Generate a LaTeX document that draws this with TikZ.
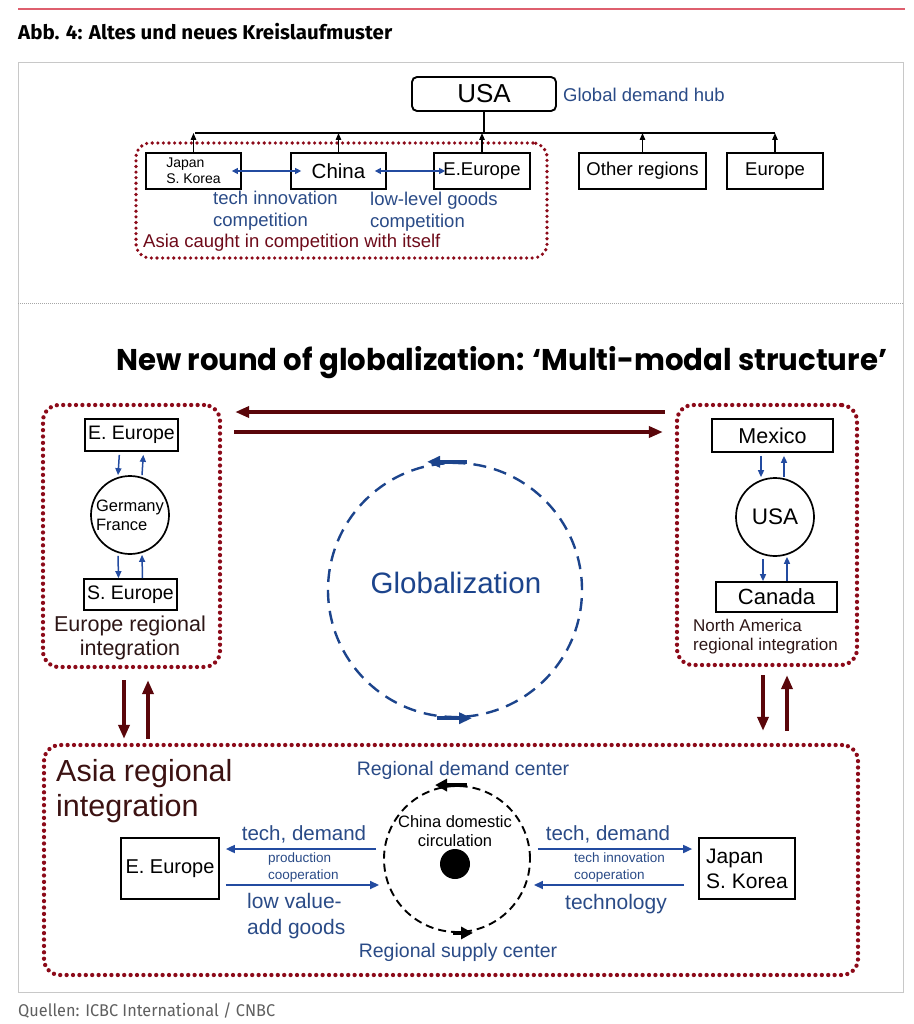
\documentclass[tikz,border=0pt]{standalone}
\usepackage{fontspec}
\usepackage{graphicx}
\setmainfont{Liberation Sans}
\newfontfamily\firaf{Fira Sans}
\newfontfamily\popf{Poppins}
\usetikzlibrary{arrows.meta}
\definecolor{blueT}{RGB}{42,75,135}
\definecolor{arrB}{RGB}{35,75,160}
\definecolor{globB}{RGB}{28,68,140}
\definecolor{regred}{RGB}{140,10,25}
\definecolor{maroonA}{RGB}{90,6,10}
\definecolor{darkT}{RGB}{45,22,22}
\definecolor{asiaT}{RGB}{60,18,18}
\definecolor{capT}{RGB}{110,10,25}
\definecolor{redline}{RGB}{222,95,110}
\definecolor{frameG}{RGB}{200,200,200}
\definecolor{srcG}{RGB}{95,95,95}
\newcommand\fsz[2]{\fontsize{#1}{#2}\selectfont}
\begin{document}
\begin{tikzpicture}[x=1pt,y=-1pt,
  box/.style={draw, line width=1.7pt, inner sep=0pt},
  region/.style={draw=regred, line width=4.3pt, dash pattern=on 0pt off 6.4pt, line cap=round, rounded corners=16pt, inner sep=0pt},
  upar/.style={draw, line width=1.3pt, -{Triangle[length=7pt,width=5.5pt]}},
  dbl/.style={draw=arrB, line width=1.2pt, {Triangle[length=6pt,width=6pt]}-{Triangle[length=6pt,width=6pt]}},
  blu/.style={draw=arrB, line width=1.5pt, -{Triangle[length=7pt,width=6pt]}},
  blu2/.style={draw=arrB, line width=1.7pt, -{Triangle[length=9pt,width=8pt]}},
  big/.style={draw=maroonA, line width=3.8pt, -{Triangle[length=14pt,width=11pt]}},
  gar/.style={draw=globB, line width=3.6pt, -{Triangle[length=13pt,width=11pt]}},
  kar/.style={draw=black, line width=4pt, -{Triangle[length=12pt,width=12pt]}},
  txt/.style={inner sep=0pt},
]
\useasboundingbox (0,0) rectangle (913,1024);
\fill[white] (0,0) rectangle (913,1024);

% header
\draw[redline, line width=1.2pt] (18,9) -- (905,9);
\node[txt, anchor=base west] (head) at (18,39.5) {\resizebox{374pt}{\height}{\firaf\bfseries\fsz{20}{20}Abb. 4: Altes und neues Kreislaufmuster}};
\draw[frameG, line width=1pt] (18,63) rectangle (903,992);
\draw[gray!70, line width=0.8pt, dash pattern=on 1pt off 1pt] (18,303) -- (903,303);
\node[txt, anchor=base west, text=srcG] (src) at (18,1016) {\resizebox{257pt}{\height}{\firaf\fsz{17}{17}Quellen: ICBC International / CNBC}};

% ===== old pattern =====
\node[region, line width=3.6pt, dash pattern=on 0pt off 5.6pt, rounded corners=14pt, minimum width=411pt, minimum height=115pt] (asia1) at (341.5,200.5) {};
\node[box, rounded corners=5pt, line width=1.9pt, minimum width=144pt, minimum height=34pt, font=\fsz{26}{26}] (usa) at (484,94) {USA};
\node[txt, anchor=west, text=blueT, font=\fsz{18.5}{20}] (hub) at (563,95) {Global demand hub};
\coordinate (barL) at (195,133);
\coordinate (barR) at (775,133);
\draw[line width=2pt] (barL) -- (barR);
\draw[line width=2pt] (usa.south) -- (usa.south |- barL);
\node[box, minimum width=95pt, minimum height=36pt, align=left, font=\fsz{14}{16}] (jk) at (193.5,171) {Japan\\S. Korea};
\node[box, minimum width=95pt, minimum height=36pt, font=\fsz{20.5}{20}] (cn) at (338.5,171) {China};
\node[box, minimum width=96pt, minimum height=36pt, font=\fsz{18.5}{18}] (ee) at (482,171) {E.Europe};
\node[box, minimum width=127pt, minimum height=36pt, font=\fsz{18.5}{18}] (oth) at (642.5,171) {Other regions};
\node[box, minimum width=96pt, minimum height=36pt, font=\fsz{18.5}{18}] (eur) at (775,171) {Europe};
\foreach \b in {jk,cn,ee,oth,eur} \draw[upar] (\b.north) -- (\b.north |- barL);
\draw[dbl, shorten <=-10pt, shorten >=-11pt] (jk.east) -- (cn.west);
\draw[dbl, shorten <=-12pt, shorten >=-12pt] (cn.east) -- (ee.west);
\node[txt, anchor=west, align=left, text=blueT, font=\fsz{18.5}{22}] (tic) at (213,211) {tech innovation\\competition};
\node[txt, anchor=west, align=left, text=blueT, font=\fsz{18.5}{22}] (llg) at (370,212) {low-level goods\\competition};
\node[txt, anchor=west, text=capT, font=\fsz{18.5}{20}] (cap) at (143,243) {Asia caught in competition with itself};

% ===== new pattern =====
\node[txt, anchor=base west] (title2) at (116,370.5) {\resizebox{771pt}{\height}{\popf\bfseries\fsz{30}{30}New round of globalization: ‘Multi-modal structure’}};

% Europe
\node[region, minimum width=177pt, minimum height=262pt] (euR) at (131.5,536) {};
\node[box, minimum width=93pt, minimum height=32pt, font=\fsz{19.5}{19}] (eE) at (131.5,435) {E. Europe};
\node[draw, circle, line width=1.7pt, minimum size=78pt, inner sep=0pt, align=left, font=\fsz{16.5}{19}] (gf) at (130,515) {Germany\\France};
\node[box, minimum width=93pt, minimum height=31pt, font=\fsz{19.5}{19}] (sE) at (130.5,594.5) {S. Europe};
\node[txt, align=center, text=darkT, font=\fsz{21.5}{24}] (eulab) at (130,638) {Europe regional\\integration};
\draw[blu, shorten <=3pt] ([xshift=-12pt]eE.south) -- ([xshift=-12pt]gf.north);
\draw[blu, shorten >=3pt] ([xshift=12pt]gf.north) -- ([xshift=12pt]eE.south);
\draw[blu, shorten <=1pt] ([xshift=-12pt]gf.south) -- ([xshift=-12pt]sE.north);
\draw[blu] ([xshift=12pt]sE.north) -- ([xshift=12pt]gf.south);

% North America
\node[region, minimum width=180pt, minimum height=260pt] (naR) at (767,535) {};
\node[box, minimum width=121pt, minimum height=33pt, font=\fsz{21.5}{21}] (mx) at (772.5,435.5) {Mexico};
\node[draw, circle, line width=1.7pt, minimum size=78pt, inner sep=0pt, font=\fsz{22.5}{22}] (usa2) at (775,517) {USA};
\node[box, minimum width=121pt, minimum height=30pt, font=\fsz{22}{22}] (ca) at (776.5,597) {Canada};
\node[txt, anchor=west, align=left, text=darkT, font=\fsz{17}{19}] (nalab) at (693,636.5) {North America\\regional integration};
\draw[blu, shorten <=3pt] ([xshift=-14pt]mx.south -| usa2.north) -- ([xshift=-14pt]usa2.north);
\draw[blu, shorten >=3pt] ([xshift=9pt]usa2.north) -- ([xshift=9pt]usa2.north |- mx.south);
\draw[blu, shorten <=2pt] ([xshift=-12pt]usa2.south) -- ([xshift=-12pt]usa2.south |- ca.north);
\draw[blu] ([xshift=12pt]usa2.south |- ca.north) -- ([xshift=12pt]usa2.south);

% Globalization
\node[draw=globB, circle, line width=2.4pt, dash pattern=on 13pt off 8pt, minimum size=254pt, inner sep=0pt] (glob) at (455,590) {};
\node[txt, text=globB, font=\fsz{29.5}{29}] (globtxt) at (456,583) {Globalization};
\draw[gar] ([xshift=12pt]glob.north) -- ([xshift=-28pt]glob.north);
\draw[gar] ([xshift=-18pt]glob.south) -- ([xshift=17pt]glob.south);

% Asia
\node[region, minimum width=814pt, minimum height=230pt] (asR) at (451,860) {};
\node[txt, anchor=west, align=left, text=asiaT, font=\fsz{30.5}{35}] (aslab) at (56,791) {Asia regional\\integration};
\node[txt, text=blueT, font=\fsz{19.5}{20}] (dem) at (463,770) {Regional demand center};
\node[txt, text=blueT, font=\fsz{19.5}{20}] (sup) at (458,952) {Regional supply center};
\node[draw, circle, line width=1.9pt, dash pattern=on 8pt off 5pt, minimum size=146pt, inner sep=0pt] (cdc) at (457,859) {};
\node[circle, fill=black, minimum size=30pt, inner sep=0pt] (dot) at (455,864) {};
\node[txt, align=center, font=\fsz{16.5}{19}] (cdctxt) at (455,831.5) {China domestic\\circulation};
\draw[kar] ([xshift=10pt]cdc.north) -- ([xshift=-22pt]cdc.north);
\draw[kar] ([xshift=-4pt]cdc.south) -- ([xshift=16pt]cdc.south);
\node[box, minimum width=98pt, minimum height=61pt, font=\fsz{20}{20}] (aE) at (170,868.5) {E. Europe};
\node[box, minimum width=96pt, minimum height=61pt, align=left, font=\fsz{21}{25}] (jp) at (747,868.5) {Japan\\S. Korea};
\draw[blu2, shorten <=7pt, shorten >=6pt] (cdc.west |- 0,849) -- (aE.east |- 0,849);
\draw[blu2, shorten <=6pt, shorten >=4pt] (aE.east |- 0,885) -- (cdc.west |- 0,885);
\draw[blu2, shorten <=7pt, shorten >=6pt] (cdc.east |- 0,849) -- (jp.west |- 0,849);
\draw[blu2, shorten <=14pt, shorten >=3pt] (jp.west |- 0,885) -- (cdc.east |- 0,885);
\node[txt, text=blueT, font=\fsz{20.5}{22}] (td1) at (304,834) {tech, demand};
\node[txt, text=blueT, font=\fsz{20.5}{22}] (td2) at (608,834) {tech, demand};
\node[txt, anchor=west, align=left, text=blueT, font=\fsz{13.5}{17}] (pc) at (268,867.5) {production\\cooperation};
\node[txt, anchor=west, align=left, text=blueT, font=\fsz{13.5}{17}] (tc) at (574,867.5) {tech innovation\\cooperation};
\node[txt, anchor=west, align=left, text=blueT, font=\fsz{21}{26}] (lv) at (247,916) {low value-\\add goods};
\node[txt, text=blueT, font=\fsz{21}{22}] (tech) at (616,904) {technology};

% region links
\draw[big, shorten <=10pt, shorten >=13pt] (naR.west |- 0,412) -- (euR.east |- 0,412);
\draw[big, shorten <=12pt, shorten >=12pt] (euR.east |- 0,432) -- (naR.west |- 0,432);
\draw[big, shorten <=11pt, shorten >=4pt] (euR.south -| 124,0) -- (asR.north -| 124,0);
\draw[big, shorten <=4pt, shorten >=11pt] (asR.north -| 148,0) -- (euR.south -| 148,0);
\draw[big, shorten <=8pt, shorten >=12pt] (naR.south -| 763,0) -- (asR.north -| 763,0);
\draw[big, shorten <=12pt, shorten >=8pt] (asR.north -| 787,0) -- (naR.south -| 787,0);
\end{tikzpicture}
\end{document}
